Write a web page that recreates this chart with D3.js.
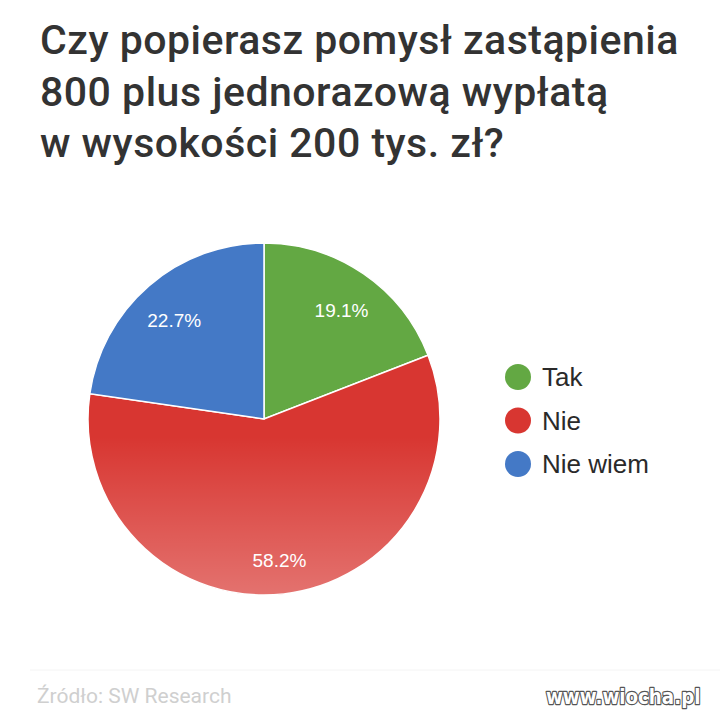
<!DOCTYPE html>
<html>
<head>
<meta charset="utf-8">
<script src="https://cdn.jsdelivr.net/npm/d3@7/dist/d3.min.js"></script>
<style>
  html, body { margin: 0; padding: 0; background: #fff; }
  svg { display: block; }
</style>
</head>
<body>
<svg id="chart"></svg>
<script>
const titleLines = ['Czy popierasz pomysł zastąpienia', '800 plus jednorazową wypłatą', 'w wysokości 200 tys. zł?'];
const categories = ['Tak', 'Nie', 'Nie wiem'];
const values = [19.1, 58.2, 22.7];
const colors = ['#63a843', '#d83631', '#4479c6'];
const sourceText = 'Źródło: SW Research';
const watermark = 'www.wiocha.pl';

const width = 720, height = 719;
const cx = 264, cy = 419, radius = 176;

const svg = d3.select('#chart')
  .attr('width', width)
  .attr('height', height);

// fade on the lower part of the pie, like the screenshot
const defs = svg.append('defs');
const grad = defs.append('linearGradient')
  .attr('id', 'fade')
  .attr('x1', 0).attr('y1', 0).attr('x2', 0).attr('y2', 1);
grad.append('stop').attr('offset', '0.55').attr('stop-color', '#fff').attr('stop-opacity', 0);
grad.append('stop').attr('offset', '1').attr('stop-color', '#fff').attr('stop-opacity', 0.3);

// title
svg.append('g')
  .selectAll('text')
  .data(titleLines)
  .enter()
  .append('text')
  .attr('x', 40)
  .attr('y', (d, i) => 54 + i * 51.5)
  .attr('font-family', 'Roboto')
  .attr('font-weight', 500)
  .attr('font-size', 41)
  .attr('letter-spacing', 0.5)
  .attr('fill', '#333')
  .text(d => d);

const pie = d3.pie().sort(null).value(d => d);
const arcs = pie(values);
const arc = d3.arc().innerRadius(0).outerRadius(radius);
const labelArc = d3.arc().innerRadius(radius * 0.78).outerRadius(radius * 0.78);

const chart = svg.append('g')
  .attr('transform', `translate(${cx},${cy})`);

chart.selectAll('path.slice')
  .data(arcs)
  .enter()
  .append('path')
  .attr('class', 'slice')
  .attr('d', arc)
  .attr('fill', (d, i) => colors[i])
  .attr('stroke', '#fff')
  .attr('stroke-width', 1.5);

chart.append('circle')
  .attr('r', radius)
  .attr('fill', 'url(#fade)');

chart.selectAll('text.pct')
  .data(arcs)
  .enter()
  .append('text')
  .attr('class', 'pct')
  .attr('transform', d => `translate(${labelArc.centroid(d)})`)
  .attr('text-anchor', 'middle')
  .attr('dy', '0.6em')
  .attr('font-family', 'Liberation Sans, Arial')
  .attr('font-size', 19)
  .attr('fill', '#fff')
  .text(d => d.data.toFixed(1) + '%');

// legend
const legend = svg.append('g')
  .attr('transform', 'translate(518,377)');

const item = legend.selectAll('g')
  .data(categories)
  .enter()
  .append('g')
  .attr('transform', (d, i) => `translate(0,${i * 43.5})`);

item.append('circle')
  .attr('r', 13)
  .attr('fill', (d, i) => colors[i]);

item.append('text')
  .attr('x', 24)
  .attr('dy', '0.35em')
  .attr('font-family', 'Liberation Sans, Arial')
  .attr('font-size', 26)
  .attr('fill', '#2a2a2a')
  .text(d => d);

// footer
svg.append('line')
  .attr('x1', 30).attr('x2', 720)
  .attr('y1', 670).attr('y2', 670)
  .attr('stroke', '#f4f4f4')
  .attr('stroke-width', 1);

svg.append('text')
  .attr('x', 37)
  .attr('y', 703)
  .attr('font-family', 'Roboto')
  .attr('font-size', 21)
  .attr('fill', '#cfcfcf')
  .text(sourceText);

// watermark, squeezed sideways to fit like the original
svg.append('text')
  .attr('transform', 'translate(546,704) scale(0.87,1)')
  .attr('font-family', 'DejaVu Sans')
  .attr('font-weight', 'bold')
  .attr('font-size', 21)
  .attr('fill', '#fff')
  .attr('stroke', '#555')
  .attr('stroke-width', 2.5)
  .attr('stroke-linejoin', 'round')
  .attr('paint-order', 'stroke')
  .text(watermark);
</script>
</body>
</html>
